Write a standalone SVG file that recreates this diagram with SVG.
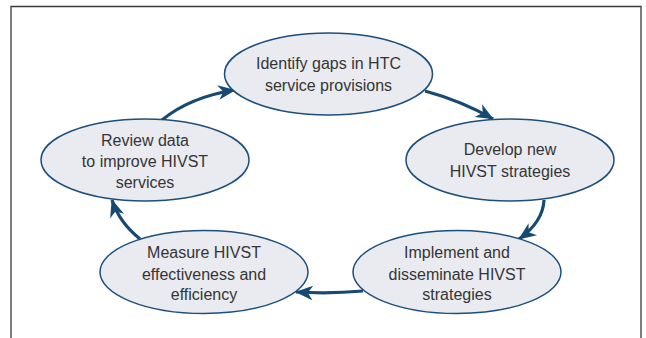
<svg xmlns="http://www.w3.org/2000/svg" width="646" height="338" viewBox="0 0 646 338">
  <style>
    .node ellipse { fill: #e9ebf0; stroke: #1d4f7c; stroke-width: 1.5; }
    .node text { font-family: "Liberation Sans", Arial, sans-serif; font-size: 16px; fill: #353535; text-anchor: middle; }
    .conn path { fill: none; stroke: #174a72; stroke-width: 3.2; marker-end: url(#head); }
  </style>
  <defs>
    <marker id="head" viewBox="0 0 12 10" refX="11.5" refY="5" markerWidth="5.6" markerHeight="4.6" orient="auto" markerUnits="strokeWidth">
      <path d="M0,0 L12,5 L0,10 L3.5,5 Z" fill="#174a72"/>
    </marker>
  </defs>
  <rect width="646" height="338" fill="#ffffff"/>
  <!-- frame, open at the bottom -->
  <path d="M11,338 V6.5 H641 V338" fill="none" stroke="#3a3a3a" stroke-width="1.3"/>

  <g class="conn">
    <path d="M425,91 Q462,101 493,119"/>
    <path d="M544,200 Q543,222 519,239"/>
    <path d="M363,291 Q330,294 296,292"/>
    <path d="M140,239 Q119,222 112,200"/>
    <path d="M162,120 Q190,97 235,90"/>
  </g>

  <g id="identify" class="node">
    <ellipse cx="328.5" cy="74" rx="104" ry="41"/>
    <text x="328.5" y="69">Identify gaps in HTC</text>
    <text x="328.5" y="91">service provisions</text>
  </g>
  <g id="develop" class="node">
    <ellipse cx="510" cy="160" rx="104" ry="41"/>
    <text x="510" y="155">Develop new</text>
    <text x="510" y="177">HIVST strategies</text>
  </g>
  <g id="implement" class="node">
    <ellipse cx="457" cy="272" rx="104" ry="41.5"/>
    <text x="457" y="258">Implement and</text>
    <text x="457" y="279.5">disseminate HIVST</text>
    <text x="457" y="300">strategies</text>
  </g>
  <g id="measure" class="node">
    <ellipse cx="204" cy="272" rx="104" ry="41.5"/>
    <text x="204" y="258">Measure HIVST</text>
    <text x="204" y="279.5">effectiveness and</text>
    <text x="204" y="300">efficiency</text>
  </g>
  <g id="review" class="node">
    <ellipse cx="145" cy="160" rx="104" ry="41"/>
    <text x="145" y="146">Review data</text>
    <text x="145" y="167">to improve HIVST</text>
    <text x="145" y="188">services</text>
  </g>
</svg>
